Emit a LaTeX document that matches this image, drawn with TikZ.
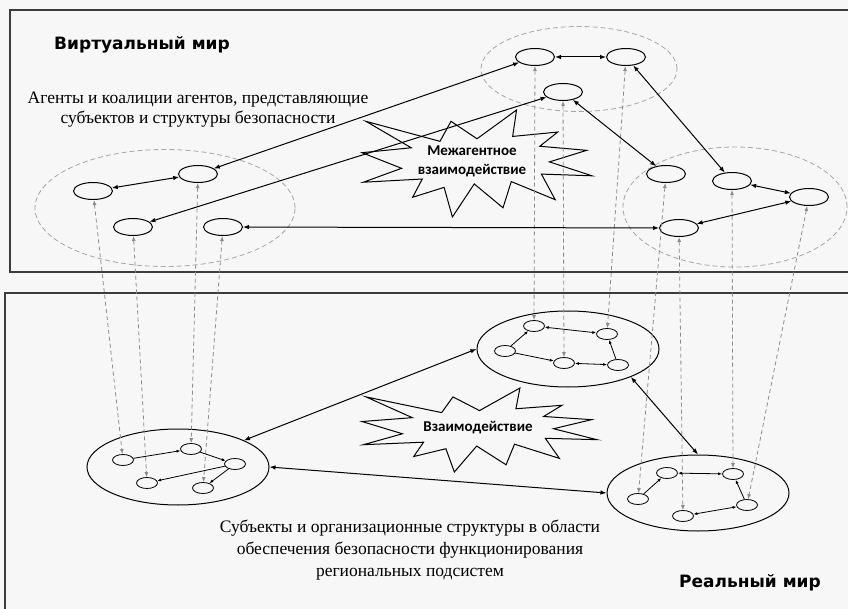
\documentclass[tikz,border=0pt]{standalone}
\usepackage{fontspec}
\setmainfont{Liberation Serif}
\newfontfamily\headfont{DejaVu Sans}
\newfontfamily\calloutfont{Carlito}
\usetikzlibrary{shapes.geometric,arrows.meta}

\definecolor{paper}{RGB}{247,247,247}
\definecolor{framegray}{RGB}{60,60,60}
\definecolor{tracegray}{RGB}{140,140,140}

\tikzset{
  agent/.style={ellipse, draw, line width=1pt, minimum width=39pt, minimum height=17pt, inner sep=0pt},
  subj/.style={ellipse, draw, line width=0.8pt, minimum width=21pt, minimum height=11pt, inner sep=0pt},
  coalition/.style={ellipse, draw=gray!70, dash pattern=on 5pt off 3pt, line width=0.8pt, inner sep=0pt},
  region/.style={ellipse, draw, line width=1pt, minimum width=182pt, minimum height=76pt, inner sep=0pt},
  link/.style={{Latex[length=6pt,width=4.5pt]}-{Latex[length=6pt,width=4.5pt]}, line width=1pt},
  sublink/.style={-{Latex[length=4pt,width=3pt]}, line width=0.8pt},
  sublinkb/.style={{Latex[length=4pt,width=3pt]}-{Latex[length=4pt,width=3pt]}, line width=0.8pt},
  trace/.style={{Latex[length=5pt,width=4pt]}-{Latex[length=5pt,width=4pt]}, draw=tracegray, dash pattern=on 4pt off 3pt, line width=0.8pt},
  worldtitle/.style={font=\headfont\bfseries\fontsize{17}{20}\selectfont},
  descr/.style={font=\fontsize{17.5}{20}\selectfont, align=center, inner sep=0pt},
  burstlabel/.style={font=\calloutfont\bfseries\fontsize{15}{19}\selectfont, align=center, inner sep=0pt},
  burst/.pic={
    \draw[line width=1pt] (50,26.9) -- (67.2,0) -- (65.5,24.7) -- (85.1,20.6) -- (77.3,33.9)
      -- (97.7,37.7) -- (81.5,48.5) -- (100,61.5) -- (78,59.9) -- (84,83.8) -- (64.9,66.9)
      -- (61.3,91.4) -- (48.8,69.1) -- (39.3,100) -- (35.7,72.3) -- (22,81.6) -- (26.2,64.5)
      -- (0.6,67.5) -- (17.2,54.5) -- (0,39.9) -- (21.4,35.3) -- (1.7,10.6) -- (33.9,29.3)
      -- (38.7,10.6) -- cycle;
  }
}

\begin{document}
\begin{tikzpicture}[x=1pt, y=-1pt]
\useasboundingbox (0,0) rectangle (848,609);
\clip (0,0) rectangle (848,609);
\fill[paper] (0,0) rectangle (848,609);

% two worlds
\draw[framegray, line width=1.3pt] (10,10) rectangle (856,272);
\draw[framegray, line width=1.3pt] (5,293) rectangle (856,616);

% coalitions of agents
\node[coalition, minimum width=260pt, minimum height=117pt] (grp1) at (165,208) {};
\node[coalition, minimum width=196pt, minimum height=85pt] (grp2) at (579,69) {};
\node[coalition, minimum width=224pt, minimum height=120pt] (grp3) at (735,207) {};

% agents
\node[agent] (a1) at (93,191) {};
\node[agent] (a2) at (198,174) {};
\node[agent] (a3) at (133,227) {};
\node[agent] (a4) at (223,227) {};
\node[agent] (b1) at (535,57) {};
\node[agent] (b2) at (626,57) {};
\node[agent] (b3) at (563,92) {};
\node[agent] (c1) at (666,174) {};
\node[agent] (c2) at (732,181) {};
\node[agent] (c3) at (809,197) {};
\node[agent] (c4) at (679,228) {};

% real structures
\node[region] (sl) at (178,467) {};
\node[region] (su) at (568,349) {};
\node[region] (sr) at (698,493) {};

\node[subj] (d1) at (123,460) {};
\node[subj] (d2) at (191,449) {};
\node[subj] (d3) at (235,464) {};
\node[subj] (d4) at (147,483) {};
\node[subj] (d5) at (203,488) {};
\node[subj] (e1) at (534,326) {};
\node[subj] (e2) at (607,334) {};
\node[subj] (e3) at (505,351) {};
\node[subj] (e4) at (564,363) {};
\node[subj] (e5) at (618,365) {};
\node[subj] (f1) at (667,473) {};
\node[subj] (f2) at (733,474) {};
\node[subj] (f3) at (638,499) {};
\node[subj] (f4) at (747,505) {};
\node[subj] (f5) at (683,516) {};

% interaction bursts
\pic[xscale=2.30, yscale=1.07] at (362,110) {burst};
\pic[xscale=2.35, yscale=0.84] at (362,388) {burst};
\node[burstlabel] (inter) at (472,161) {Межагентное\\взаимодействие};
\node[burstlabel] (coop) at (478,428) {Взаимодействие};

% agent to subject traces
\foreach \u/\v in {a1/d1, a2/d2, a3/d4, a4/d5, b1/e1, b2/e2, b3/e4, c1/f3, c2/f2, c3/f4, c4/f5}
    \draw[trace] (\u) -- (\v);

% links between agents
\foreach \u/\v in {a1/a2, a2/b1, a3/b3, a4/c4, b1/b2, b2/c2, b3/c1, c2/c3, c3/c4}
    \draw[link] (\u) -- (\v);

% links between subjects
\foreach \u/\v in {d1/d2, d2/d3, d3/d4, d3/d5, e3/e1, e3/e4, e5/e2, f3/f1, f4/f2}
    \draw[sublink] (\u) -- (\v);
\foreach \u/\v in {e1/e2, e4/e5, f1/f2, f4/f5}
    \draw[sublinkb] (\u) -- (\v);

% links between regions
\draw[link] (sl.22) -- (su.west);
\draw[link] (sl.east) -- (sr.west);
\draw[link] (su.-24) -- (sr.north);

% texts
\node[worldtitle] (virt) at (142,45) {Виртуальный мир};
\node[worldtitle] (real) at (750,583) {Реальный мир};
\node[descr] (agtxt) at (198,110) {Агенты и коалиции агентов, представляющие\\субъектов и структуры безопасности};
\node[descr, font=\fontsize{17.5}{22}\selectfont] (subtxt) at (410,550) {Субъекты и организационные структуры в области\\обеспечения безопасности функционирования\\региональных подсистем};
\end{tikzpicture}
\end{document}
